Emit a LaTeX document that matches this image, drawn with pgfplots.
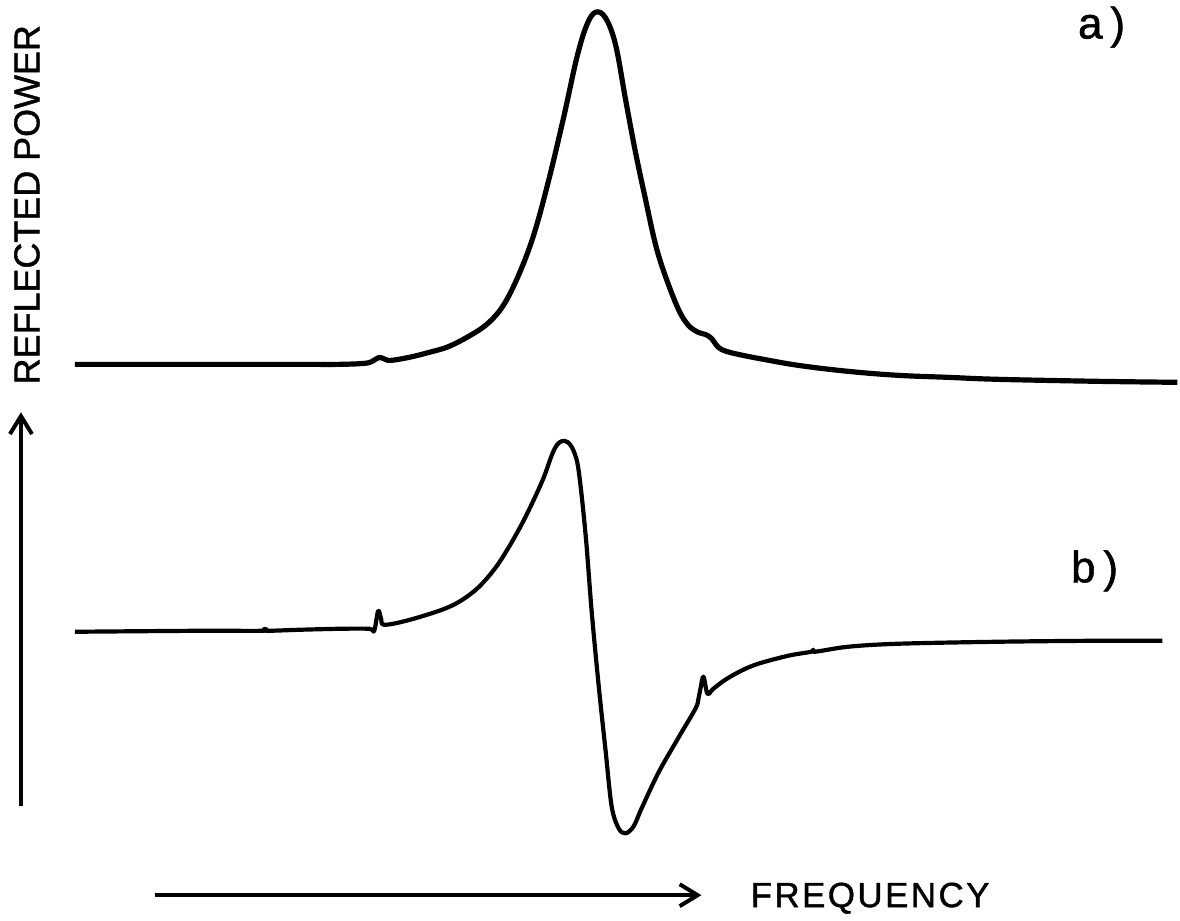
\documentclass[border=0pt]{standalone}
\usepackage{fontspec}
\setmainfont{Liberation Sans}
\usepackage{pgfplots}
\pgfplotsset{compat=1.18}
\usetikzlibrary{arrows.meta}
\newfontfamily\lblfont[LetterSpace=7,FakeBold=1.2]{Liberation Sans}
\newfontfamily\ylblfont[FakeBold=1.2]{Liberation Sans}
\begin{document}
\begin{tikzpicture}
\begin{axis}[
  scale only axis, width=590pt, height=461pt,
  xmin=0, xmax=1180, ymin=0, ymax=922, y dir=reverse,
  axis lines=none, clip=false, ticks=none,
]
\path (rel axis cs:0,0) rectangle (rel axis cs:1,1);
% curve a)
\addplot[black, line width=2.6pt, smooth, tension=0.6, line join=round] coordinates {
(75,365) (200,365) (300,365) (340,365) (365,364) (373,362) (380,358) (386,360) (392,361)
(410,358) (430,353) (450,347) (473,335) (490,323) (505,305) (520,275) (535,235) (550,180)
(565,117) (578,58) (588,25) (597,12) (607,18) (617,45) (627,100) (637,153) (647,200)
(657,245) (667,277) (680,310) (690,326) (700,333) (707,335) (713,339) (720,348) (728,352)
(740,355) (760,359) (800,366) (850,372) (900,376) (950,378) (1000,380) (1100,382) (1180,383)
};
% curve b)
\addplot[black, line width=2.1pt, smooth, tension=0.55, line join=round] coordinates {
(75,633) (200,632) (263,632) (265,630) (267,632) (300,631) (340,630) (370,630) (375,632)
(379,612) (382,620) (385,626) (407,622) (440,612) (460,603) (480,588) (500,564) (523,525)
(543,483) (553,456) (558,446) (563,442) (569,443) (575,452) (580,472) (587,537) (593,613)
(600,687) (607,753) (613,808) (620,830) (627,835) (635,828) (643,810) (660,774) (680,739)
(697,710) (700,700) (702,690) (705,678) (709,695) (715,690) (727,681) (743,672) (760,665)
(790,657) (813,653) (815,651) (817,653) (850,648) (900,645) (1000,643) (1100,642) (1165,642)
};
% axis arrows
\draw[line width=2pt, -{Straight Barb[length=9pt,width=11pt,line width=2pt]}]
  (axis cs:21,808) -- (axis cs:21,413);
\draw[line width=2pt, -{Straight Barb[length=9pt,width=11pt,line width=2pt]}]
  (axis cs:155,897) -- (axis cs:703,897);
% labels
\node[rotate=90, font=\fontsize{18}{20}\ylblfont] at (axis cs:27,205) {REFLECTED POWER};
\node[font=\fontsize{17.5}{20}\lblfont] at (axis cs:872,900) {FREQUENCY};
\node[font=\fontsize{22}{24}\ylblfont] at (axis cs:1104,27) {a\hspace{4pt})};
\node[font=\fontsize{22}{24}\ylblfont] at (axis cs:1097,572) {b\hspace{4pt})};
\end{axis}
\end{tikzpicture}
\end{document}
